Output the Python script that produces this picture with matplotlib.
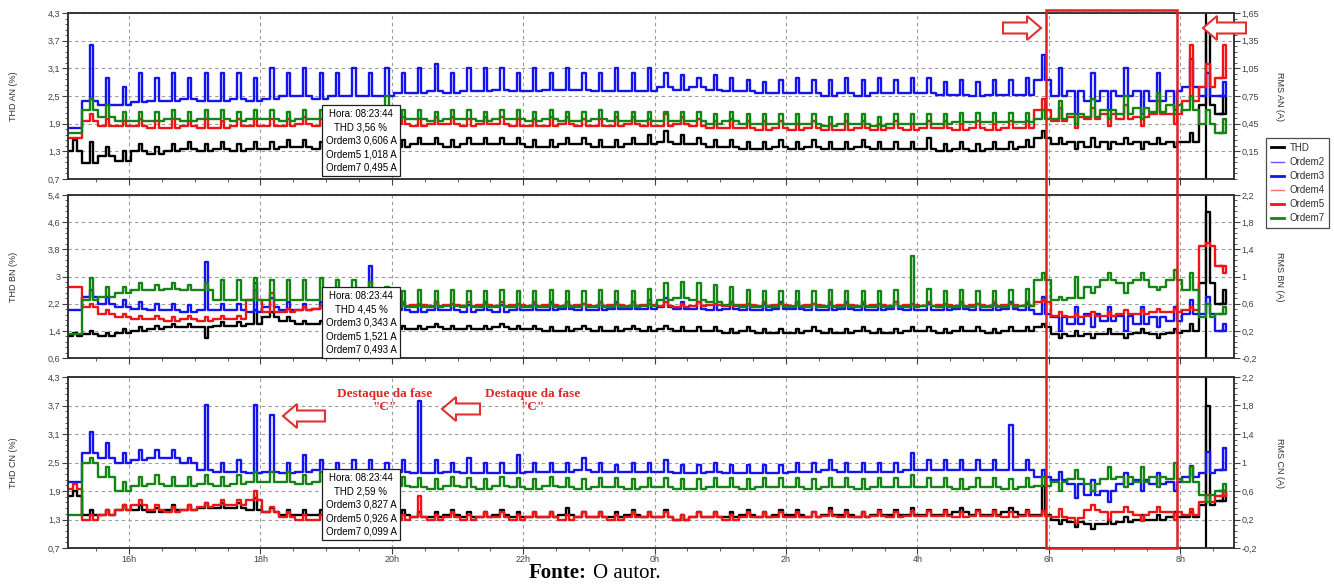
import matplotlib

matplotlib.use("Agg")
import matplotlib.pyplot as plt
import numpy as np
from matplotlib.lines import Line2D
from matplotlib.patches import Polygon, Rectangle
from matplotlib.text import Annotation
from matplotlib.ticker import AutoMinorLocator, FixedLocator, FuncFormatter, MultipleLocator

plt.rcParams["font.family"] = ["Liberation Sans", "DejaVu Sans"]

W, H = 1334, 586

# 15-minute slots; hour of day continues past 24 for the morning
SLOT_START = 15.03
SLOT_STEP = 0.25
SPIKE_OFFSET = 0.12
SPIKE_WIDTH = 0.05
CURSOR_HOUR = 32.396  # 08:23:44

X_TICKS = [16, 18, 20, 22, 24, 26, 28, 30, 32]
X_LABELS = ["16h", "18h", "20h", "22h", "0h", "2h", "4h", "6h", "8h"]

# ---------------- phase A (THD in %, orders in A) ----------------
A_THD_LEVEL = [1.3, 1.05, 1.2, 1.1,
               1.3, 1.25, 1.3, 1.35, 1.3, 1.35, 1.3, 1.35,
               1.35, 1.4, 1.4, 1.35, 1.4, 1.4, 1.4, 1.4,
               1.4, 1.45, 1.45, 1.4, 1.45, 1.45, 1.45, 1.45,
               1.4, 1.4, 1.45, 1.45, 1.4, 1.4, 1.45, 1.45,
               1.5, 1.45, 1.45, 1.4, 1.4, 1.35, 1.35, 1.4,
               1.35, 1.4, 1.35, 1.35, 1.4, 1.35, 1.35, 1.35,
               1.35, 1.3, 1.35, 1.3, 1.35, 1.35, 1.4, 1.6,
               1.45, 1.5, 1.4, 1.5, 1.45, 1.5, 1.45, 1.5,
               1.5, 2.3, 2.1]
A_THD_PEAK = [1.55, 1.5, 1.4, 1.3,
              1.45, 1.4, 1.45, 1.5, 1.45, 1.5, 1.45, 1.5,
              1.5, 1.55, 1.55, 1.5, 1.55, 1.55, 1.55, 1.55,
              1.55, 1.6, 1.6, 1.55, 1.6, 1.6, 1.6, 1.6,
              1.55, 1.55, 1.6, 1.6, 1.55, 1.55, 1.6, 1.65,
              1.75, 1.65, 1.6, 1.55, 1.55, 1.5, 1.5, 1.55,
              1.5, 1.55, 1.5, 1.5, 1.55, 1.5, 1.5, 1.5,
              1.6, 1.45, 1.5, 1.45, 1.5, 1.5, 1.55, 1.75,
              1.6, 1.35, 1.6, 1.35, 1.6, 1.35, 1.6, 1.4,
              1.7, 3.9, 2.5]
A_O3_LEVEL = [0.40, 0.70, 0.65, 0.65,
              0.68, 0.70, 0.70, 0.72, 0.70, 0.70, 0.72, 0.70,
              0.72, 0.75, 0.75, 0.72, 0.75, 0.75, 0.75, 0.75,
              0.78, 0.78, 0.80, 0.78, 0.80, 0.80, 0.82, 0.80,
              0.80, 0.82, 0.82, 0.82, 0.80, 0.80, 0.80, 0.80,
              0.85, 0.82, 0.85, 0.82, 0.80, 0.80, 0.78, 0.78,
              0.78, 0.78, 0.75, 0.78, 0.75, 0.78, 0.78, 0.78,
              0.78, 0.76, 0.76, 0.75, 0.76, 0.76, 0.76, 0.92,
              0.75, 0.80, 0.70, 0.80, 0.75, 0.80, 0.70, 0.80,
              0.85, 0.75, 0.75]
A_O3_PEAK = [0.40, 1.30, 0.95, 0.85,
             1.00, 0.95, 1.00, 0.95, 1.00, 1.00, 1.00, 0.95,
             1.05, 1.00, 1.05, 1.00, 1.00, 1.05, 1.00, 1.05,
             1.00, 1.05, 1.10, 1.00, 1.05, 1.05, 1.05, 1.00,
             1.05, 1.00, 1.05, 1.00, 1.00, 1.05, 1.00, 1.05,
             1.00, 0.98, 0.95, 0.98, 0.95, 0.92, 0.90, 0.92,
             0.95, 0.92, 0.92, 0.95, 0.92, 0.95, 0.92, 0.95,
             0.95, 0.90, 0.92, 0.90, 0.92, 0.92, 0.95, 1.20,
             1.05, 0.55, 1.00, 0.60, 1.05, 0.55, 1.00, 0.60,
             1.15, 1.00, 0.90]
A_O5_LEVEL = [0.30, 0.48, 0.42, 0.42,
              0.42, 0.40, 0.40, 0.42, 0.40, 0.40, 0.42, 0.42,
              0.42, 0.42, 0.45, 0.42, 0.45, 0.42, 0.45, 0.45,
              0.45, 0.42, 0.45, 0.45, 0.42, 0.45, 0.45, 0.42,
              0.42, 0.42, 0.45, 0.42, 0.42, 0.42, 0.45, 0.42,
              0.42, 0.45, 0.42, 0.40, 0.40, 0.40, 0.38, 0.40,
              0.38, 0.40, 0.38, 0.38, 0.40, 0.38, 0.40, 0.38,
              0.40, 0.40, 0.38, 0.40, 0.38, 0.40, 0.40, 0.60,
              0.48, 0.52, 0.50, 0.55, 0.50, 0.52, 0.55, 0.55,
              0.70, 0.85, 0.95]
A_O5_PEAK = [0.30, 0.55, 0.50, 0.48,
             0.50, 0.48, 0.50, 0.48, 0.50, 0.48, 0.50, 0.50,
             0.50, 0.50, 0.52, 0.50, 0.52, 0.50, 0.52, 0.52,
             0.52, 0.50, 0.52, 0.52, 0.50, 0.52, 0.52, 0.50,
             0.50, 0.52, 0.52, 0.50, 0.50, 0.52, 0.52, 0.50,
             0.55, 0.52, 0.50, 0.48, 0.50, 0.48, 0.48, 0.48,
             0.45, 0.48, 0.45, 0.48, 0.48, 0.45, 0.48, 0.45,
             0.48, 0.48, 0.45, 0.48, 0.45, 0.48, 0.48, 0.72,
             0.62, 0.40, 0.62, 0.42, 0.65, 0.42, 0.70, 0.45,
             1.30, 1.10, 1.30]
A_O7_LEVEL = [0.35, 0.60, 0.52, 0.48,
              0.48, 0.48, 0.50, 0.48, 0.50, 0.50, 0.48, 0.50,
              0.50, 0.48, 0.50, 0.50, 0.48, 0.50, 0.50, 0.52,
              0.50, 0.50, 0.48, 0.50, 0.50, 0.48, 0.50, 0.50,
              0.48, 0.50, 0.48, 0.48, 0.50, 0.48, 0.48, 0.48,
              0.48, 0.48, 0.48, 0.45, 0.48, 0.45, 0.45, 0.45,
              0.45, 0.45, 0.42, 0.45, 0.45, 0.42, 0.45, 0.45,
              0.45, 0.45, 0.47, 0.47, 0.47, 0.47, 0.47, 0.50,
              0.50, 0.55, 0.52, 0.60, 0.55, 0.62, 0.58, 0.65,
              0.60, 0.45, 0.35]
A_O7_PEAK = [0.35, 0.72, 0.65, 0.58,
             0.58, 0.58, 0.60, 0.58, 0.60, 0.60, 0.58, 0.60,
             0.60, 0.58, 0.60, 0.60, 0.58, 0.60, 0.60, 0.75,
             0.60, 0.60, 0.58, 0.60, 0.60, 0.58, 0.60, 0.60,
             0.58, 0.60, 0.58, 0.58, 0.60, 0.58, 0.58, 0.58,
             0.58, 0.58, 0.58, 0.55, 0.58, 0.55, 0.55, 0.55,
             0.55, 0.55, 0.52, 0.55, 0.55, 0.52, 0.55, 0.55,
             0.55, 0.55, 0.57, 0.57, 0.57, 0.57, 0.57, 0.60,
             0.70, 0.45, 0.72, 0.50, 0.75, 0.50, 0.78, 0.55,
             0.75, 0.60, 0.50]

# ---------------- phase B ----------------
B_THD_LEVEL = [1.25, 1.3, 1.25, 1.35,
               1.4, 1.45, 1.5, 1.5, 1.5, 1.55, 1.55, 1.6,
               1.8, 1.7, 1.6, 1.6, 1.55, 1.55, 1.5, 1.5,
               1.45, 1.45, 1.5, 1.45, 1.45, 1.45, 1.5, 1.45,
               1.45, 1.4, 1.4, 1.45, 1.4, 1.4, 1.45, 1.4,
               1.45, 1.4, 1.4, 1.4, 1.35, 1.4, 1.35, 1.35,
               1.35, 1.4, 1.35, 1.35, 1.4, 1.35, 1.35, 1.4,
               1.4, 1.35, 1.4, 1.4, 1.35, 1.4, 1.4, 1.5,
               1.3, 1.25, 1.3, 1.3, 1.3, 1.35, 1.3, 1.35,
               1.4, 2.8, 2.2]
B_THD_PEAK = [1.35, 1.4, 1.35, 1.45,
              1.5, 1.55, 1.6, 1.6, 1.2, 1.65, 1.65, 2.0,
              1.95, 1.8, 1.7, 1.7, 1.65, 1.65, 1.6, 1.6,
              1.55, 1.55, 1.6, 1.55, 1.55, 1.55, 1.6, 1.55,
              1.55, 1.5, 1.5, 1.55, 1.5, 1.5, 1.55, 1.5,
              1.55, 1.5, 1.5, 1.5, 1.45, 1.5, 1.45, 1.45,
              1.45, 1.5, 1.45, 1.45, 1.5, 1.45, 1.45, 1.5,
              1.5, 1.45, 1.5, 1.5, 1.45, 1.5, 1.5, 1.6,
              1.2, 1.4, 1.2, 1.45, 1.2, 1.45, 1.2, 1.45,
              1.6, 4.9, 2.6]
B_O3_LEVEL = [0.50, 0.70, 0.60, 0.55,
              0.52, 0.50, 0.50, 0.48, 0.50, 0.50, 0.50, 0.48,
              0.55, 0.50, 0.50, 0.52, 0.50, 0.50, 0.50, 0.52,
              0.50, 0.48, 0.50, 0.50, 0.48, 0.50, 0.48, 0.50,
              0.50, 0.50, 0.52, 0.50, 0.50, 0.52, 0.52, 0.52,
              0.55, 0.52, 0.52, 0.50, 0.52, 0.50, 0.50, 0.52,
              0.52, 0.50, 0.50, 0.52, 0.50, 0.50, 0.52, 0.50,
              0.50, 0.50, 0.52, 0.50, 0.50, 0.52, 0.50, 0.45,
              0.40, 0.30, 0.45, 0.35, 0.42, 0.30, 0.40, 0.35,
              0.45, 0.45, 0.20]
B_O3_PEAK = [0.50, 0.80, 0.70, 0.65,
             0.62, 0.60, 0.60, 0.58, 1.22, 0.60, 0.60, 0.90,
             0.68, 0.62, 0.60, 0.62, 0.60, 0.62, 1.15, 0.62,
             0.60, 0.58, 0.62, 0.60, 0.58, 0.62, 0.58, 0.60,
             0.60, 0.62, 0.62, 0.60, 0.62, 0.62, 0.62, 0.65,
             0.68, 0.62, 0.62, 0.60, 0.62, 0.60, 0.60, 0.62,
             0.62, 0.60, 0.60, 0.62, 0.60, 0.60, 0.62, 0.60,
             0.60, 0.60, 0.62, 0.60, 0.60, 0.62, 0.60, 0.70,
             0.20, 0.55, 0.25, 0.55, 0.20, 0.55, 0.25, 0.55,
             0.65, 0.70, 0.30]
B_O5_LEVEL = [0.85, 0.55, 0.45, 0.40,
              0.38, 0.38, 0.35, 0.38, 0.35, 0.38, 0.38, 0.65,
              0.48, 0.48, 0.50, 0.52, 0.55, 0.55, 0.57, 0.57,
              0.57, 0.58, 0.57, 0.58, 0.57, 0.58, 0.57, 0.58,
              0.57, 0.58, 0.57, 0.58, 0.57, 0.58, 0.57, 0.58,
              0.57, 0.55, 0.57, 0.58, 0.57, 0.58, 0.57, 0.58,
              0.57, 0.58, 0.57, 0.58, 0.57, 0.58, 0.57, 0.58,
              0.57, 0.58, 0.57, 0.58, 0.57, 0.58, 0.57, 0.62,
              0.42, 0.40, 0.42, 0.42, 0.45, 0.45, 0.48, 0.48,
              0.50, 1.45, 1.15]
B_O5_PEAK = [0.85, 0.60, 0.50, 0.45,
             0.42, 0.42, 0.40, 0.42, 0.40, 0.42, 0.42, 0.80,
             0.75, 0.52, 0.55, 0.57, 0.60, 0.60, 0.62, 0.62,
             0.62, 0.60, 0.62, 0.60, 0.62, 0.60, 0.62, 0.60,
             0.62, 0.60, 0.62, 0.60, 0.62, 0.60, 0.62, 0.60,
             0.62, 0.60, 0.62, 0.60, 0.62, 0.60, 0.62, 0.60,
             0.62, 0.60, 0.62, 0.60, 0.62, 0.60, 0.62, 0.60,
             0.62, 0.60, 0.62, 0.60, 0.62, 0.60, 0.62, 0.66,
             0.48, 0.45, 0.48, 0.47, 0.50, 0.50, 0.52, 0.52,
             0.55, 1.50, 1.05]
B_O7_LEVEL = [0.15, 0.65, 0.70, 0.75,
              0.80, 0.80, 0.82, 0.80, 0.80, 0.65, 0.65, 0.65,
              0.65, 0.65, 0.65, 0.65, 0.68, 0.65, 0.65, 0.62,
              0.55, 0.55, 0.55, 0.57, 0.55, 0.55, 0.55, 0.55,
              0.55, 0.55, 0.55, 0.55, 0.55, 0.55, 0.55, 0.57,
              0.65, 0.68, 0.65, 0.62, 0.58, 0.55, 0.55, 0.55,
              0.55, 0.55, 0.55, 0.55, 0.55, 0.55, 0.55, 0.55,
              0.57, 0.55, 0.55, 0.55, 0.55, 0.55, 0.57, 0.95,
              0.65, 0.68, 0.85, 0.95, 0.90, 0.95, 0.85, 0.95,
              0.80, 0.40, 0.45]
B_O7_PEAK = [0.15, 0.98, 0.85, 0.85,
             0.90, 0.88, 0.90, 0.88, 0.90, 0.95, 0.95, 0.98,
             0.95, 0.95, 0.95, 0.98, 0.95, 0.95, 0.92, 0.85,
             0.78, 0.80, 0.78, 0.80, 0.78, 0.78, 0.80, 0.78,
             0.78, 0.80, 0.78, 0.78, 0.80, 0.78, 0.78, 0.82,
             0.90, 0.92, 0.90, 0.88, 0.85, 0.80, 0.78, 0.78,
             0.78, 0.78, 0.80, 0.78, 0.78, 0.78, 0.80, 1.30,
             0.82, 0.78, 0.80, 0.78, 0.78, 0.80, 0.82, 1.05,
             0.70, 1.00, 0.75, 1.05, 0.75, 1.05, 0.80, 1.10,
             1.05, 0.60, 0.55]

# ---------------- phase C ----------------
C_THD_LEVEL = [1.8, 1.4, 1.4, 1.5,
               1.5, 1.45, 1.5, 1.5, 1.55, 1.55, 1.55, 1.5,
               1.45, 1.4, 1.4, 1.4, 1.4, 1.4, 1.4, 1.4,
               1.4, 1.35, 1.35, 1.4, 1.35, 1.35, 1.4, 1.35,
               1.35, 1.35, 1.4, 1.35, 1.35, 1.35, 1.4, 1.35,
               1.35, 1.3, 1.35, 1.35, 1.35, 1.4, 1.35, 1.4,
               1.4, 1.35, 1.4, 1.4, 1.35, 1.4, 1.4, 1.4,
               1.4, 1.4, 1.45, 1.4, 1.4, 1.45, 1.4, 1.4,
               1.3, 1.25, 1.2, 1.2, 1.25, 1.3, 1.3, 1.35,
               1.35, 1.6, 1.7]
C_THD_PEAK = [1.9, 1.5, 1.5, 1.6,
              1.6, 1.55, 1.6, 1.6, 1.65, 1.65, 1.65, 1.75,
              1.55, 1.5, 1.5, 1.5, 1.5, 1.5, 1.5, 1.5,
              1.5, 1.45, 1.45, 1.5, 1.45, 1.45, 1.5, 1.45,
              1.45, 1.45, 1.55, 1.45, 1.45, 1.45, 1.5, 1.45,
              1.5, 1.4, 1.45, 1.45, 1.45, 1.5, 1.45, 1.5,
              1.5, 1.45, 1.55, 1.5, 1.45, 1.5, 1.5, 1.55,
              1.5, 1.5, 1.55, 1.5, 1.5, 1.55, 1.5, 2.0,
              1.2, 1.15, 1.1, 1.3, 1.35, 1.4, 1.4, 1.45,
              1.45, 3.7, 1.9]
C_O3_LEVEL = [0.73, 1.13, 1.07, 1.00,
              1.03, 1.07, 1.07, 1.00, 0.90, 0.87, 0.87, 0.85,
              0.87, 0.85, 0.87, 0.90, 0.85, 0.87, 0.85, 0.85,
              0.87, 0.85, 0.85, 0.87, 0.85, 0.85, 0.85, 0.85,
              0.87, 0.87, 0.87, 0.90, 0.87, 0.87, 0.87, 0.87,
              0.87, 0.85, 0.85, 0.87, 0.85, 0.85, 0.85, 0.85,
              0.87, 0.87, 0.90, 0.87, 0.87, 0.87, 0.87, 0.90,
              0.90, 0.90, 0.90, 0.90, 0.90, 0.90, 0.90, 0.80,
              0.75, 0.70, 0.55, 0.60, 0.70, 0.75, 0.70, 0.72,
              0.80, 0.85, 0.90]
C_O3_PEAK = [0.73, 1.43, 1.27, 1.13,
             1.17, 1.17, 1.17, 1.07, 1.80, 1.00, 1.03, 1.80,
             1.67, 1.00, 1.10, 1.03, 1.00, 1.03, 1.03, 1.00,
             1.03, 1.87, 1.03, 1.00, 1.07, 1.00, 1.00, 1.10,
             1.00, 1.00, 1.00, 1.07, 1.00, 0.97, 1.00, 1.00,
             1.03, 0.97, 0.97, 1.00, 0.97, 0.97, 0.97, 0.97,
             1.00, 1.00, 1.03, 1.00, 1.00, 1.00, 1.00, 1.13,
             1.03, 1.03, 1.03, 1.03, 1.03, 1.53, 1.03, 0.90,
             0.87, 0.50, 0.75, 0.45, 0.85, 0.60, 0.85, 0.60,
             0.95, 1.15, 1.20]
C_O5_LEVEL = [0.63, 0.20, 0.27, 0.33,
              0.40, 0.33, 0.30, 0.33, 0.37, 0.40, 0.40, 0.47,
              0.30, 0.23, 0.20, 0.20, 0.20, 0.23, 0.20, 0.20,
              0.20, 0.23, 0.20, 0.23, 0.20, 0.23, 0.23, 0.20,
              0.23, 0.23, 0.20, 0.23, 0.23, 0.20, 0.23, 0.23,
              0.23, 0.20, 0.23, 0.23, 0.20, 0.23, 0.23, 0.23,
              0.23, 0.23, 0.25, 0.23, 0.23, 0.25, 0.23, 0.25,
              0.25, 0.25, 0.23, 0.25, 0.25, 0.23, 0.25, 0.25,
              0.23, 0.22, 0.33, 0.30, 0.30, 0.27, 0.30, 0.30,
              0.27, 0.45, 0.53]
C_O5_PEAK = [0.70, 0.27, 0.33, 0.40,
             0.47, 0.40, 0.37, 0.40, 0.43, 0.47, 0.47, 0.60,
             0.37, 0.30, 0.27, 0.27, 0.27, 0.30, 0.27, 0.27,
             0.27, 0.53, 0.27, 0.30, 0.27, 0.30, 0.30, 0.27,
             0.30, 0.30, 0.27, 0.30, 0.30, 0.27, 0.30, 0.30,
             0.30, 0.27, 0.30, 0.30, 0.27, 0.30, 0.30, 0.30,
             0.30, 0.30, 0.32, 0.30, 0.30, 0.32, 0.30, 0.32,
             0.32, 0.32, 0.30, 0.32, 0.32, 0.30, 0.32, 0.32,
             0.35, 0.15, 0.40, 0.20, 0.37, 0.18, 0.37, 0.20,
             0.35, 0.55, 0.60]
C_O7_LEVEL = [0.27, 1.00, 0.80, 0.60,
              0.67, 0.70, 0.67, 0.67, 0.70, 0.67, 0.70, 0.73,
              0.73, 0.73, 0.70, 0.73, 0.70, 0.67, 0.67, 0.67,
              0.67, 0.65, 0.63, 0.67, 0.65, 0.63, 0.67, 0.65,
              0.63, 0.67, 0.65, 0.63, 0.65, 0.65, 0.63, 0.65,
              0.65, 0.63, 0.63, 0.65, 0.65, 0.63, 0.65, 0.65,
              0.65, 0.63, 0.65, 0.65, 0.63, 0.65, 0.65, 0.65,
              0.65, 0.65, 0.63, 0.65, 0.65, 0.63, 0.65, 0.67,
              0.73, 0.77, 0.70, 0.77, 0.80, 0.73, 0.80, 0.77,
              0.73, 0.55, 0.60]
C_O7_PEAK = [0.27, 1.07, 0.93, 0.73,
             0.80, 0.83, 0.80, 0.80, 0.83, 0.80, 0.83, 0.87,
             0.87, 0.87, 0.83, 0.87, 0.83, 0.80, 0.80, 0.80,
             0.80, 0.78, 0.77, 0.80, 0.78, 0.77, 0.80, 0.78,
             0.77, 0.80, 0.78, 0.77, 0.78, 0.78, 0.77, 0.78,
             0.78, 0.77, 0.77, 0.78, 0.78, 0.77, 0.78, 0.78,
             0.78, 0.77, 0.78, 0.78, 0.77, 0.78, 0.78, 0.83,
             0.78, 0.78, 0.77, 0.78, 0.78, 0.77, 0.78, 0.80,
             0.60, 0.90, 0.60, 0.93, 0.65, 0.93, 0.65, 1.00,
             0.93, 0.45, 0.70]

TOOLTIP_A = ["Hora: 08:23:44", "THD 3,56 %", "Ordem3 0,606 A", "Ordem5 1,018 A", "Ordem7 0,495 A"]
TOOLTIP_B = ["Hora: 08:23:44", "THD 4,45 %", "Ordem3 0,343 A", "Ordem5 1,521 A", "Ordem7 0,493 A"]
TOOLTIP_C = ["Hora: 08:23:44", "THD 2,59 %", "Ordem3 0,827 A", "Ordem5 0,926 A", "Ordem7 0,099 A"]

BLUE = "#1414f0"
RED = "#f01414"
GREEN = "#138513"
TICK_COLOR = "#404040"


def fx(px):
    return px / W


def fy(py):
    return 1 - py / H


def comma(v, _pos=None):
    return f"{v:.4g}".replace(".", ",")


def spiky_trace(level, peak):
    slots = SLOT_START + SLOT_STEP * np.arange(len(level))
    xs, ys = [], []
    for t, v, p in zip(slots, level, peak):
        xs += [t, t + SPIKE_OFFSET, t + SPIKE_OFFSET + SPIKE_WIDTH]
        ys += [v, p, v]
    xs.append(slots[-1] + 0.07)
    ys.append(level[-1])
    return np.array(xs), np.array(ys)


def draw_panel(rect, thd, orders, left_ticks, right_lim, right_ticks, labels, tooltip, tooltip_top, xlabels):
    ax = fig.add_axes(rect)
    ax.set_xlim(15.07, 32.82)
    ax.set_ylim(left_ticks[0], left_ticks[-1])
    ax.yaxis.set_major_locator(FixedLocator(left_ticks))
    ax.yaxis.set_major_formatter(FuncFormatter(comma))
    ax.yaxis.set_minor_locator(AutoMinorLocator(5))
    ax.xaxis.set_major_locator(FixedLocator(X_TICKS))
    ax.xaxis.set_minor_locator(MultipleLocator(0.5))
    if xlabels:
        ax.set_xticklabels(X_LABELS)
    else:
        ax.set_xticklabels([])
    ax.grid(True, which="major", color="#9a9a9a", linestyle=(0, (3, 3)), linewidth=0.8)

    xs, ys = spiky_trace(*thd)
    ax.plot(xs, ys, color="black", linewidth=1.7, drawstyle="steps-post")
    ax.axvline(CURSOR_HOUR, color="black", linewidth=1.6)
    ax.set_ylabel(labels[0], fontsize=6.5, color="#303030")
    ax.yaxis.set_label_coords(-0.043, 0.5)

    rx = ax.twinx()
    rx.set_ylim(*right_lim)
    rx.yaxis.set_major_locator(FixedLocator(right_ticks))
    rx.yaxis.set_major_formatter(FuncFormatter(comma))
    rx.yaxis.set_minor_locator(AutoMinorLocator(5))
    for (level, peak), color in zip(orders, [BLUE, RED, GREEN]):
        xs, ys = spiky_trace(level, peak)
        rx.plot(xs, ys, color=color, linewidth=1.7, drawstyle="steps-post")
    rx.set_ylabel(labels[1], fontsize=6.5, color="#303030", rotation=270)
    rx.yaxis.set_label_coords(1.043, 0.5)

    for a in (ax, rx):
        a.tick_params(which="major", length=4, width=0.8, labelsize=6.5, colors=TICK_COLOR, pad=1.5)
        a.tick_params(which="minor", length=2, width=0.6, colors=TICK_COLOR)
        for sp in a.spines.values():
            sp.set_color("#303030")
            sp.set_linewidth(1.1)
    ax.tick_params(axis="x", which="major", pad=0.8)

    fig.text(fx(361), fy(tooltip_top), "\n".join(tooltip), ha="center", va="top",
             fontsize=7, linespacing=1.42, color="black", zorder=10,
             bbox=dict(boxstyle="square,pad=0.4", facecolor="white", edgecolor="#202020", linewidth=0.9))
    return ax


def block_arrow(x0, x1, yc, direction):
    hs, hh, hl = 5.5, 12, 14
    if direction == "right":
        pts = [(x0, yc - hs), (x1 - hl, yc - hs), (x1 - hl, yc - hh), (x1, yc),
               (x1 - hl, yc + hh), (x1 - hl, yc + hs), (x0, yc + hs)]
    else:
        pts = [(x1, yc - hs), (x0 + hl, yc - hs), (x0 + hl, yc - hh), (x0, yc),
               (x0 + hl, yc + hh), (x0 + hl, yc + hs), (x1, yc + hs)]
    fig.patches.append(Polygon([(fx(x), fy(y)) for x, y in pts], closed=True, transform=fig.transFigure,
                               facecolor="white", edgecolor="#e03030", linewidth=1.5, zorder=20))


fig = plt.figure(figsize=(W / 100, H / 100), dpi=100)

draw_panel([fx(68), fy(179), fx(1166), (179 - 13) / H],
           (A_THD_LEVEL, A_THD_PEAK),
           [(A_O3_LEVEL, A_O3_PEAK), (A_O5_LEVEL, A_O5_PEAK), (A_O7_LEVEL, A_O7_PEAK)],
           [0.7, 1.3, 1.9, 2.5, 3.1, 3.7, 4.3], (-0.15, 1.65), [0.15, 0.45, 0.75, 1.05, 1.35, 1.65],
           ("THD AN (%)", "RMS AN (A)"), TOOLTIP_A, 109, False)
draw_panel([fx(68), fy(358), fx(1166), (358 - 195) / H],
           (B_THD_LEVEL, B_THD_PEAK),
           [(B_O3_LEVEL, B_O3_PEAK), (B_O5_LEVEL, B_O5_PEAK), (B_O7_LEVEL, B_O7_PEAK)],
           [0.6, 1.4, 2.2, 3.0, 3.8, 4.6, 5.4], (-0.2, 2.2), [-0.2, 0.2, 0.6, 1.0, 1.4, 1.8, 2.2],
           ("THD BN (%)", "RMS BN (A)"), TOOLTIP_B, 291, False)
draw_panel([fx(68), fy(548), fx(1166), (548 - 377) / H],
           (C_THD_LEVEL, C_THD_PEAK),
           [(C_O3_LEVEL, C_O3_PEAK), (C_O5_LEVEL, C_O5_PEAK), (C_O7_LEVEL, C_O7_PEAK)],
           [0.7, 1.3, 1.9, 2.5, 3.1, 3.7, 4.3], (-0.2, 2.2), [-0.2, 0.2, 0.6, 1.0, 1.4, 1.8, 2.2],
           ("THD CN (%)", "RMS CN (A)"), TOOLTIP_C, 473, True)

handles = [
    Line2D([], [], color="black", linewidth=2.0),
    Line2D([], [], color="#5a5aff", linewidth=1.0),
    Line2D([], [], color=BLUE, linewidth=2.0),
    Line2D([], [], color="#ff7070", linewidth=1.0),
    Line2D([], [], color=RED, linewidth=2.0),
    Line2D([], [], color=GREEN, linewidth=2.0),
]
leg = fig.legend(handles, ["THD", "Ordem2", "Ordem3", "Ordem4", "Ordem5", "Ordem7"],
                 loc="upper left", bbox_to_anchor=(fx(1266), fy(138)), fontsize=7,
                 frameon=True, fancybox=False, edgecolor="#202020", borderpad=0.5,
                 handlelength=1.3, handletextpad=0.6, labelspacing=0.42, borderaxespad=0)
leg.get_frame().set_linewidth(0.9)
for t in leg.get_texts():
    t.set_color("#303030")

# highlight box over 6h-8h and the red markers
fig.patches.append(Rectangle((fx(1046), fy(548)), fx(1177 - 1046), (548 - 10) / H, transform=fig.transFigure,
                             fill=False, edgecolor="#e02020", linewidth=1.8, zorder=20))
block_arrow(1003, 1041, 28, "right")
block_arrow(1203, 1246, 28, "left")
block_arrow(283, 325, 416, "left")
block_arrow(442, 480, 409, "left")

serif = ["Liberation Serif", "DejaVu Serif"]
for cx in (385, 533):
    fig.text(fx(cx), fy(394), "Destaque da fase", ha="center", va="center", family=serif,
             fontweight="bold", fontsize=9.5, color="#e02828", zorder=21)
    fig.text(fx(cx), fy(407), "\"C\"", ha="center", va="center", family=serif,
             fontweight="bold", fontsize=9.5, color="#e02828", zorder=21)

source = fig.text(fx(529), fy(578), "Fonte:", ha="left", va="baseline", family=serif,
                  fontweight="bold", fontsize=15)
fig.add_artist(Annotation("O autor.", xy=(1, 0), xycoords=source, xytext=(4, 0),
                          textcoords="offset points", ha="left", va="bottom",
                          family=serif, fontsize=15))

fig.savefig("out.png", dpi=100)
